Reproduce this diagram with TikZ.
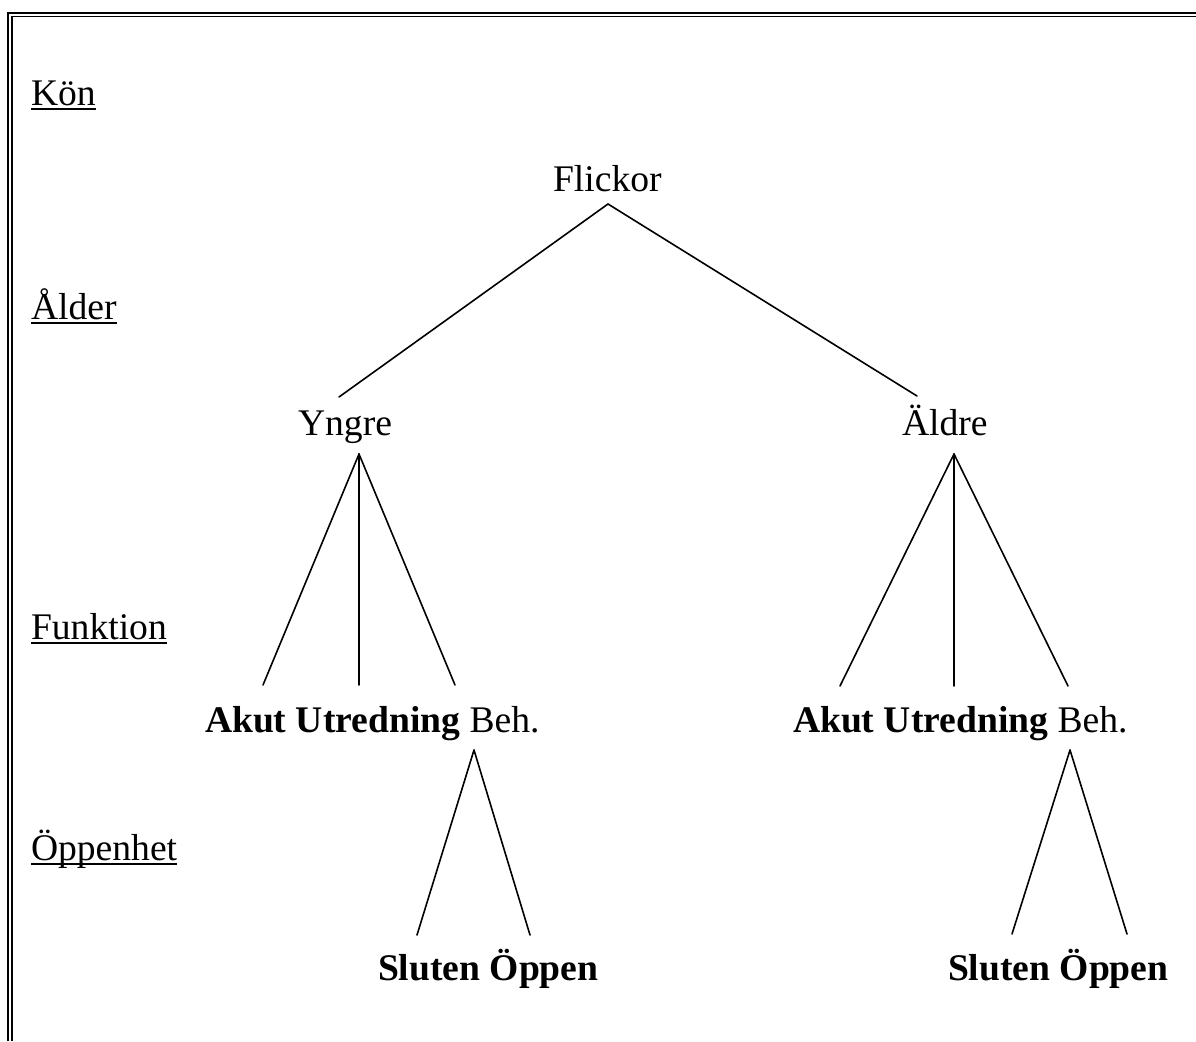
\documentclass[tikz,border=0pt]{standalone}
\usepackage{fontspec}
\setmainfont{Liberation Serif}
\begin{document}
\begin{tikzpicture}[x=1pt,y=-1pt,
  txt/.style={inner sep=0pt,outer sep=0pt,font=\fontsize{37.6}{44}\selectfont},
  lbl/.style={txt,anchor=base west},
  conn/.style={line width=1.6pt,line cap=round},
  uline/.style={line width=2.2pt}]
\useasboundingbox (0,0) rectangle (1196,1041);
% border
\draw[line width=2.2pt] (8,1041) -- (8,13) -- (1196,13);
\draw[line width=1.4pt] (11.9,1041) -- (11.9,16.5) -- (1196,16.5);
% level labels
\node[lbl] (kon) at (31,105) {Kön};
\node[lbl] (alder) at (31,319) {Ålder};
\node[lbl] (funk) at (31,639) {Funktion};
\node[lbl] (oppen) at (31,860) {Öppenhet};
\foreach \n in {kon,alder,funk,oppen}
  \draw[uline] ([yshift=-4pt]\n.base west) -- ([yshift=-4pt]\n.base east);
% tree text
\node[txt,anchor=base west] (flickor) at (553,191) {Flickor};
\node[txt,anchor=base west] (yngre) at (298,435) {Yngre};
\node[txt,anchor=base west] (aldre) at (902,435) {Äldre};
\node[txt,anchor=base west] (funkL) at (205,732) {\textbf{Akut Utredning} Beh.};
\node[txt,anchor=base west] (funkR) at (793,732) {\textbf{Akut Utredning} Beh.};
\node[txt,anchor=base west] (oppL) at (378,980) {\textbf{Sluten Öppen}};
\node[txt,anchor=base west] (oppR) at (948,980) {\textbf{Sluten Öppen}};
% connector points
\coordinate (fA) at (608,204);
\coordinate (fY) at (339,397);
\coordinate (fAe) at (917,396);
\coordinate (yA) at (359,454);
\coordinate (y1) at (263,685);
\coordinate (y2) at (359,685);
\coordinate (y3) at (455,685);
\coordinate (aA) at (954,454);
\coordinate (a1) at (840,686);
\coordinate (a2) at (954,686);
\coordinate (a3) at (1068,686);
\coordinate (bL) at (474,750);
\coordinate (bL1) at (417,935);
\coordinate (bL2) at (530,935);
\coordinate (bR) at (1070,750);
\coordinate (bR1) at (1012,934);
\coordinate (bR2) at (1127,934);
% connectors
\draw[conn] (fA) -- (fY);
\draw[conn] (fA) -- (fAe);
\draw[conn] (yA) -- (y1);
\draw[conn] (yA) -- (y2);
\draw[conn] (yA) -- (y3);
\draw[conn] (aA) -- (a1);
\draw[conn] (aA) -- (a2);
\draw[conn] (aA) -- (a3);
\draw[conn] (bL) -- (bL1);
\draw[conn] (bL) -- (bL2);
\draw[conn] (bR) -- (bR1);
\draw[conn] (bR) -- (bR2);
\end{tikzpicture}
\end{document}
